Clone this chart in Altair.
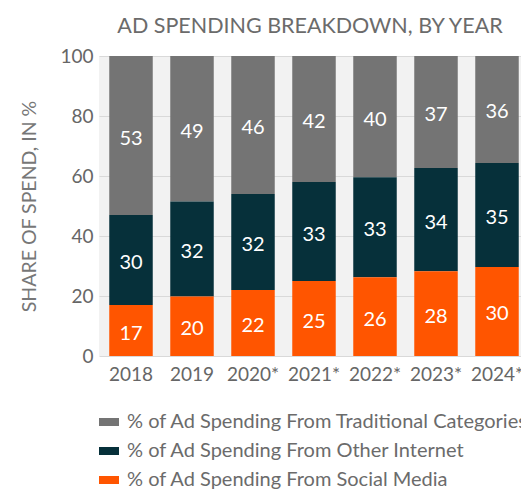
import altair as alt
import pandas as pd

years = ["2018", "2019", "2020*", "2021*", "2022*", "2023*", "2024*"]
social = [17, 20, 22, 25, 26, 28, 30]
other = [30, 32, 32, 33, 33, 34, 35]
traditional = [53, 49, 46, 42, 40, 37, 36]

series_names = [
    "% of Ad Spending From Traditional Categories",
    "% of Ad Spending From Other Internet",
    "% of Ad Spending From Social Media",
]
series_colors = ["#747474", "#06303a", "#ff5500"]
stack_rank = {series_names[2]: 0, series_names[1]: 1, series_names[0]: 2}

rows = []
for i, y in enumerate(years):
    for name, vals in zip(series_names, [traditional, other, social]):
        rows.append({"year": y, "series": name, "value": vals[i], "rank": stack_rank[name]})
df = pd.DataFrame(rows)

FONT = "Lato"

base = alt.Chart(df).transform_stack(
    stack="value", groupby=["year"], as_=["v0", "v1"], offset="normalize",
    sort=[alt.SortField("rank", order="ascending")],
).transform_calculate(
    p0="datum.v0 * 100", p1="datum.v1 * 100", mid="(datum.v0 + datum.v1) * 50"
)

xenc = alt.X("year:N", sort=years, title=None,
             scale=alt.Scale(paddingInner=0.287, paddingOuter=0.1025, align=0.82),
             axis=alt.Axis(labelAngle=0, labelFontSize=19, labelColor="#666666",
                           labelFont=FONT, ticks=False, domain=False, labelPadding=9,
                           grid=False))

bars = base.mark_bar().encode(
    x=xenc,
    y=alt.Y("p0:Q", title="SHARE OF SPEND, IN %",
            scale=alt.Scale(domain=[0, 100]),
            axis=alt.Axis(values=[0, 20, 40, 60, 80, 100], labelFontSize=19,
                          labelColor="#666666", labelFont=FONT, ticks=False,
                          domain=False, labelPadding=6, gridColor="#d9d9d9",
                          titleFontSize=19.5, titleFont=FONT, titleColor="#777777",
                          titleFontWeight="normal", titlePadding=20)),
    y2="p1:Q",
    color=alt.Color("series:N", scale=alt.Scale(domain=series_names, range=series_colors),
                    title=None,
                    legend=alt.Legend(orient="none", legendX=0, legendY=356,
                                      direction="vertical",
                                      symbolType="M-1,-0.4L1,-0.4L1,0.4L-1,0.4Z",
                                      symbolSize=400, symbolStrokeWidth=0,
                                      labelFontSize=20, labelFont=FONT, labelOffset=8,
                                      labelColor="#6b6b6b", rowPadding=9,
                                      labelLimit=600, symbolOpacity=1)),
)

labels = base.mark_text(color="white", fontSize=20, font=FONT, baseline="middle", dy=3).encode(
    x=alt.X("year:N", sort=years),
    y=alt.Y("mid:Q"),
    text=alt.Text("value:Q"),
)

chart = alt.layer(bars, labels).properties(
    width=422, height=300,
    title=alt.TitleParams("AD SPENDING BREAKDOWN, BY YEAR", fontSize=21.5, font=FONT,
                          color="#6b6b6b", fontWeight="normal", offset=10),
    autosize=alt.AutoSizeParams(type="none"),
    padding={"left": 91, "top": 48, "right": 0, "bottom": 140},
).configure_view(fill="#f2f2f2", stroke=None)

chart.save("out.html", embed_options={"renderer": "svg", "actions": False})
